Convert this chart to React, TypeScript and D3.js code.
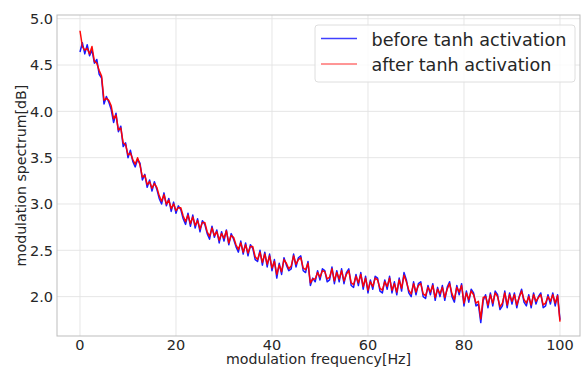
import React from "react";
import * as d3 from "d3";

// Modulation spectrum sampled every 0.5 Hz from 0 to 100 Hz
const FREQ_STEP = 0.5;

const beforeTanh: number[] = [
  4.64, 4.74, 4.62, 4.72, 4.60, 4.66, 4.52, 4.56, 4.40, 4.36,
  4.08, 4.16, 4.10, 4.02, 3.88, 3.98, 3.78, 3.84, 3.62, 3.66,
  3.50, 3.58, 3.46, 3.40, 3.48, 3.44, 3.26, 3.32, 3.18, 3.26,
  3.14, 3.24, 3.16, 3.06, 3.00, 3.12, 2.98, 3.06, 2.92, 3.02,
  2.90, 2.98, 2.94, 2.84, 2.78, 2.90, 2.76, 2.88, 2.74, 2.84,
  2.70, 2.82, 2.78, 2.68, 2.62, 2.76, 2.64, 2.72, 2.58, 2.70,
  2.60, 2.72, 2.56, 2.68, 2.62, 2.54, 2.48, 2.60, 2.46, 2.58,
  2.44, 2.56, 2.52, 2.40, 2.38, 2.50, 2.34, 2.48, 2.32, 2.46,
  2.28, 2.40, 2.20, 2.36, 2.24, 2.42, 2.34, 2.28, 2.30, 2.46,
  2.32, 2.42, 2.44, 2.28, 2.26, 2.38, 2.12, 2.20, 2.16, 2.28,
  2.18, 2.30, 2.28, 2.16, 2.18, 2.32, 2.14, 2.28, 2.16, 2.30,
  2.14, 2.26, 2.30, 2.12, 2.10, 2.24, 2.12, 2.26, 2.08, 2.22,
  2.04, 2.18, 2.08, 2.22, 2.20, 2.06, 2.04, 2.18, 2.08, 2.22,
  2.04, 2.16, 2.02, 2.20, 2.06, 2.26, 2.18, 2.04, 2.00, 2.16,
  2.02, 2.14, 2.16, 2.00, 1.98, 2.12, 2.02, 2.14, 1.96, 2.10,
  2.00, 2.12, 1.96, 2.10, 2.16, 2.00, 1.94, 2.12, 2.02, 2.14,
  1.90, 2.06, 1.94, 2.08, 2.04, 1.90, 1.92, 1.72, 1.96, 2.02,
  1.88, 2.04, 1.90, 2.06, 2.02, 1.86, 1.90, 2.06, 1.88, 2.04,
  1.92, 2.04, 1.88, 2.00, 2.08, 1.94, 1.90, 2.02, 1.88, 2.04,
  1.92, 2.00, 2.04, 1.88, 1.90, 2.02, 1.92, 2.04, 1.90, 2.02,
  1.75,
];

const afterTanh: number[] = [
  4.87, 4.70, 4.66, 4.68, 4.62, 4.70, 4.54, 4.52, 4.44, 4.38,
  4.12, 4.14, 4.12, 4.06, 3.92, 3.96, 3.80, 3.82, 3.66, 3.64,
  3.53, 3.55, 3.48, 3.43, 3.50, 3.42, 3.29, 3.31, 3.21, 3.24,
  3.17, 3.22, 3.18, 3.09, 3.03, 3.10, 3.00, 3.04, 2.95, 3.00,
  2.93, 2.96, 2.96, 2.87, 2.81, 2.88, 2.79, 2.86, 2.77, 2.82,
  2.73, 2.80, 2.80, 2.70, 2.65, 2.74, 2.66, 2.70, 2.61, 2.68,
  2.63, 2.71, 2.58, 2.66, 2.64, 2.56, 2.51, 2.58, 2.48, 2.56,
  2.47, 2.54, 2.54, 2.43, 2.40, 2.48, 2.37, 2.46, 2.35, 2.44,
  2.31, 2.38, 2.24, 2.34, 2.27, 2.40, 2.36, 2.30, 2.33, 2.44,
  2.35, 2.40, 2.42, 2.31, 2.29, 2.36, 2.15, 2.19, 2.19, 2.26,
  2.21, 2.28, 2.27, 2.19, 2.21, 2.30, 2.17, 2.26, 2.19, 2.28,
  2.17, 2.24, 2.28, 2.15, 2.13, 2.22, 2.15, 2.24, 2.11, 2.20,
  2.07, 2.16, 2.11, 2.20, 2.18, 2.09, 2.07, 2.16, 2.11, 2.20,
  2.07, 2.14, 2.05, 2.18, 2.09, 2.23, 2.16, 2.07, 2.03, 2.14,
  2.05, 2.12, 2.14, 2.03, 2.01, 2.10, 2.05, 2.12, 1.99, 2.08,
  2.03, 2.10, 1.99, 2.08, 2.14, 2.03, 1.97, 2.10, 2.05, 2.12,
  1.93, 2.04, 1.97, 2.06, 2.02, 1.93, 1.95, 1.76, 1.99, 2.00,
  1.91, 2.02, 1.93, 2.04, 2.00, 1.89, 1.93, 2.04, 1.91, 2.02,
  1.95, 2.02, 1.91, 1.99, 2.06, 1.97, 1.93, 2.00, 1.91, 2.02,
  1.95, 1.99, 2.02, 1.91, 1.93, 2.00, 1.95, 2.02, 1.93, 2.01,
  1.73,
];

const xTicks = [0, 20, 40, 60, 80, 100];
const yTicks = [2.0, 2.5, 3.0, 3.5, 4.0, 4.5, 5.0];
const seriesNames = ["before tanh activation", "after tanh activation"];
const seriesColors = ["#0000ff", "#ff0000"];

const W = 587;
const H = 367;
const plot = { left: 57, right: 580, top: 15, bottom: 336 };
const FONT = "'DejaVu Sans', sans-serif";

export default function App() {
  const x = d3.scaleLinear().domain([-4.79, 104.17]).range([plot.left, plot.right]);
  const y = d3.scaleLinear().domain([1.575, 5.04]).range([plot.bottom, plot.top]);

  const line = d3
    .line<number>()
    .x((_, i) => x(i * FREQ_STEP))
    .y((d) => y(d));

  const series = [beforeTanh, afterTanh];

  return (
    <svg
      width={W}
      height={H}
      style={{ position: "absolute", left: 0, top: 0, background: "#fff" }}
      fontFamily={FONT}
    >
      <defs>
        <clipPath id="plot-clip">
          <rect x={plot.left} y={plot.top} width={plot.right - plot.left} height={plot.bottom - plot.top} />
        </clipPath>
      </defs>
      {/* grid */}
      {xTicks.map((t) => (
        <line key={"gx" + t} x1={x(t)} x2={x(t)} y1={plot.top} y2={plot.bottom} stroke="#e3e3e3" strokeWidth={0.9} />
      ))}
      {yTicks.map((t) => (
        <line key={"gy" + t} x1={plot.left} x2={plot.right} y1={y(t)} y2={y(t)} stroke="#e3e3e3" strokeWidth={0.9} />
      ))}
      {/* series */}
      <g clipPath="url(#plot-clip)">
        {series.map((s, i) => (
          <path
            key={seriesNames[i]}
            d={line(s) ?? ""}
            fill="none"
            stroke={seriesColors[i]}
            strokeOpacity={i === 0 ? 0.9 : 0.97}
            strokeWidth={1.5}
            strokeLinejoin="round"
          />
        ))}
      </g>
      {/* frame */}
      <rect
        x={plot.left}
        y={plot.top}
        width={plot.right - plot.left}
        height={plot.bottom - plot.top}
        fill="none"
        stroke="#bdbdbd"
        strokeWidth={1}
      />
      {/* tick labels */}
      {xTicks.map((t) => (
        <text key={"tx" + t} x={x(t)} y={349.5} fontSize={14.5} textAnchor="middle" fill="#262626">
          {t}
        </text>
      ))}
      {yTicks.map((t) => (
        <text key={"ty" + t} x={53} y={y(t) + 5.2} fontSize={14.5} textAnchor="end" fill="#262626">
          {t.toFixed(1)}
        </text>
      ))}
      {/* axis labels */}
      <text x={(plot.left + plot.right) / 2} y={364} fontSize={14.2} textAnchor="middle" fill="#262626">
        modulation frequency[Hz]
      </text>
      <text
        transform={`translate(26,${(plot.top + plot.bottom) / 2}) rotate(-90)`}
        fontSize={14.2}
        textAnchor="middle"
        fill="#262626"
      >
        modulation spectrum[dB]
      </text>
      {/* legend */}
      <g>
        <rect x={315} y={25} width={260} height={57} rx={3} fill="#fff" fillOpacity={0.8} stroke="#dedede" strokeWidth={1} />
        {seriesNames.map((name, i) => (
          <g key={"lg" + name}>
            <line
              x1={321}
              x2={357}
              y1={38.5 + i * 25.5}
              y2={38.5 + i * 25.5}
              stroke={seriesColors[i]}
              strokeOpacity={i === 0 ? 0.75 : 0.55}
              strokeWidth={1.4}
            />
            <text x={371.5} y={45.5 + i * 25.5} fontSize={17.6} fill="#262626">
              {name}
            </text>
          </g>
        ))}
      </g>
    </svg>
  );
}
